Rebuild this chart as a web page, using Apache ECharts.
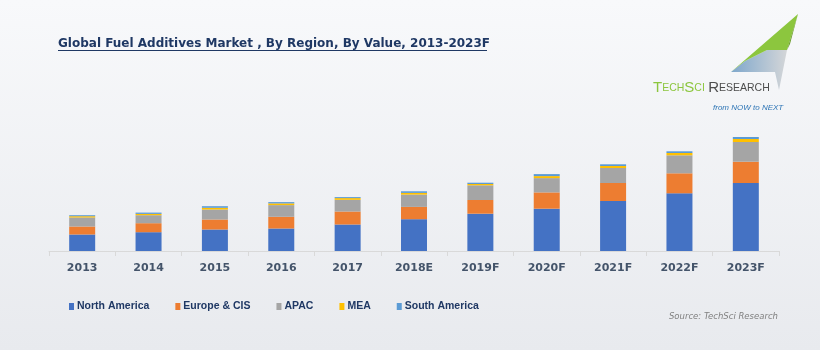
<!DOCTYPE html>
<html>
<head>
<meta charset="utf-8">
<script src="https://cdn.jsdelivr.net/npm/echarts@6.0.0/dist/echarts.min.js"></script>
<style>
  html, body { margin: 0; padding: 0; }
  #main { width: 820px; height: 350px; }
</style>
</head>
<body>
<div id="main"></div>
<script>
// years on the x axis
const years = ['2013', '2014', '2015', '2016', '2017', '2018E', '2019F', '2020F', '2021F', '2022F', '2023F'];

// values (relative units)
const northAmerica = [16.5, 18.8, 21.5, 22.5, 26.5, 31.8, 37.3, 42.3, 50.0, 57.7, 68.0];
const europeCIS    = [8.0, 9.0, 10.0, 11.7, 13.0, 12.3, 13.7, 16.3, 18.0, 20.0, 21.3];
const apac         = [9.0, 8.0, 10.0, 11.7, 11.7, 12.3, 14.7, 14.3, 15.0, 18.0, 19.7];
const mea          = [1.3, 1.3, 1.7, 1.7, 1.7, 1.7, 1.3, 2.0, 2.0, 2.3, 3.0];
const southAmerica = [1.0, 1.3, 1.6, 1.3, 1.0, 1.6, 1.3, 2.0, 1.7, 1.7, 2.0];

const seriesNames = ['North America', 'Europe & CIS', 'APAC', 'MEA', 'South America'];
const seriesColors = ['#4472c4', '#ed7d31', '#a5a5a5', '#ffc000', '#5b9bd5'];

const chart = echarts.init(document.getElementById('main'));

function bar(name, data, color) {
  return {
    name: name,
    type: 'bar',
    stack: 'total',
    barWidth: 26,
    itemStyle: { color: color },
    data: data
  };
}

const option = {
  animation: false,
  backgroundColor: new echarts.graphic.LinearGradient(0, 0, 0, 1, [
    { offset: 0, color: '#f8f9fb' },
    { offset: 1, color: '#e8eaee' }
  ]),
  color: seriesColors,
  title: {
    text: 'Global Fuel Additives Market , By Region, By Value, 2013-2023F',
    left: 58,
    top: 38,
    padding: 0,
    textStyle: {
      fontFamily: 'DejaVu Sans',
      fontWeight: 'bold',
      fontSize: 12,
      color: '#1f3864'
    }
  },
  legend: {
    left: 69,
    top: 301,
    padding: 0,
    itemWidth: 5,
    itemHeight: 7,
    itemGap: 26,
    icon: 'rect',
    textStyle: {
      fontFamily: 'Liberation Sans',
      fontWeight: 'bold',
      fontSize: 10.5,
      color: '#1f3864',
      padding: [0, 0, 0, -2]
    },
    data: seriesNames
  },
  grid: {
    left: 49,
    right: 41,
    top: 111,
    bottom: 99
  },
  xAxis: {
    type: 'category',
    data: years,
    axisLine: { lineStyle: { color: '#d9d9d9', width: 1 } },
    axisTick: { show: true, length: 5, lineStyle: { color: '#d9d9d9' } },
    axisLabel: {
      margin: 12,
      fontFamily: 'DejaVu Sans',
      fontWeight: 'bold',
      fontSize: 11,
      color: '#44546a'
    }
  },
  yAxis: {
    type: 'value',
    min: 0,
    max: 140,
    show: false,
    splitLine: { show: false }
  },
  series: [
    bar(seriesNames[0], northAmerica, seriesColors[0]),
    bar(seriesNames[1], europeCIS, seriesColors[1]),
    bar(seriesNames[2], apac, seriesColors[2]),
    bar(seriesNames[3], mea, seriesColors[3]),
    bar(seriesNames[4], southAmerica, seriesColors[4])
  ],
  graphic: [
    // title underline
    {
      type: 'line',
      shape: { x1: 58, y1: 50.5, x2: 487, y2: 50.5 },
      style: { stroke: '#1f3864', lineWidth: 1 }
    },
    // source note
    {
      type: 'text',
      x: 778,
      y: 317,
      style: {
        text: 'Source: TechSci Research',
        fill: '#808080',
        font: 'italic 8.5px "DejaVu Sans"',
        align: 'right',
        verticalAlign: 'middle'
      }
    },
    // logo: plane shape
    {
      type: 'polygon',
      shape: { points: [[731, 72], [745, 61], [767, 50], [787, 50], [779, 90], [775, 72]] },
      style: {
        fill: new echarts.graphic.LinearGradient(0, 0, 1, 0, [
          { offset: 0, color: '#7ea7cc' },
          { offset: 1, color: '#d4d6d8' }
        ])
      }
    },
    {
      type: 'polygon',
      shape: { points: [[798, 14], [731, 72], [745, 61], [767, 50], [787, 50]] },
      style: { fill: '#8cc63e' }
    },
    {
      type: 'polygon',
      shape: { points: [[798, 14], [787, 50], [790, 44]] },
      style: { fill: '#6d9e2c' }
    },
    {
      type: 'text',
      x: 653,
      y: 88,
      style: {
        text: '{g1|T}{g2|ECH}{g1|S}{g2|CI} {r1|R}{r2|ESEARCH}',
        verticalAlign: 'middle',
        rich: {
          g1: { fill: '#8cc63e', fontSize: 15, fontFamily: 'Liberation Sans' },
          g2: { fill: '#8cc63e', fontSize: 10.5, fontFamily: 'Liberation Sans' },
          r1: { fill: '#4d4d4d', fontSize: 15, fontFamily: 'Liberation Sans' },
          r2: { fill: '#4d4d4d', fontSize: 10.5, fontFamily: 'Liberation Sans' }
        }
      }
    },
    {
      type: 'text',
      x: 713,
      y: 108,
      style: {
        text: 'from NOW to NEXT',
        fill: '#2e75b6',
        font: 'italic 8px "Liberation Sans"',
        verticalAlign: 'middle'
      }
    }
  ]
};

chart.setOption(option);
</script>
</body>
</html>
